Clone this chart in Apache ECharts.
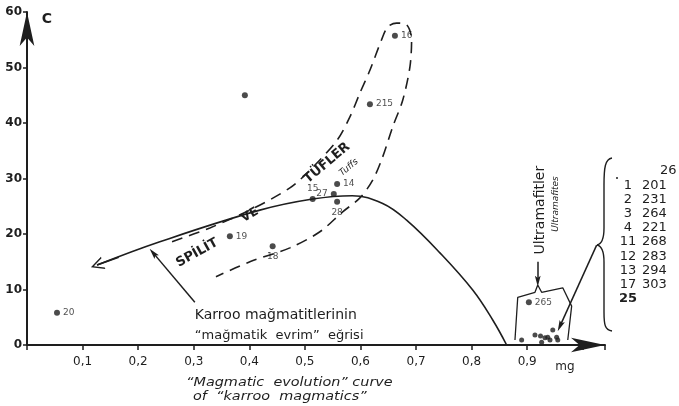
<!DOCTYPE html>
<html><head><meta charset="utf-8">
<script src="https://cdn.jsdelivr.net/npm/echarts@6/dist/echarts.min.js"></script>
<style>html,body{margin:0;padding:0;background:#fff}#c{width:679px;height:406px}</style>
</head><body><div id="c"></div>
<script>
// Analysed samples: mg (x) against C (y)
const labelledNames = ['20', '16', '215', '14', '15', '27', '28', '19', '18', '265'];
const labelledMg = [0.054, 0.662, 0.617, 0.558, 0.514, 0.552, 0.558, 0.365, 0.442, 0.903];
const labelledC = [5.8, 55.7, 43.4, 29.0, 26.3, 27.2, 25.8, 19.6, 17.8, 7.7];
const labelPlace = ['right', 'right', 'right', 'right', 'top', 'left', 'bottom', 'right', 'bottom', 'right'];
const unlabelledMg = [0.392];
const unlabelledC = [45.0];

// Ultramafite samples lying on the mg axis
const clusterMg = [0.890, 0.914, 0.924, 0.926, 0.932, 0.937, 0.941, 0.946, 0.953, 0.955];
const clusterC = [0.9, 1.8, 1.6, 0.5, 1.3, 1.4, 0.9, 2.7, 1.4, 0.9];

// "Magmatic evolution" curve of the Karroo magmatics
const curveMg = [0.126, 0.239, 0.419, 0.514, 0.585, 0.640, 0.683, 0.743, 0.802, 0.838, 0.863];
const curveC = [14.4, 18.6, 24.3, 26.3, 26.9, 25.5, 22.5, 16.6, 9.9, 4.5, 0];

// Outline of the spilite & tuff field
const fieldMg = [0.261, 0.329, 0.401, 0.473, 0.509, 0.558, 0.581, 0.599, 0.617, 0.638, 0.649, 0.665, 0.683, 0.692,
  0.689, 0.676, 0.658, 0.640, 0.622, 0.599, 0.568, 0.527, 0.473, 0.401, 0.340];
const fieldC = [18.6, 21.1, 24.3, 28.3, 31.5, 36.9, 41.1, 45.4, 49.5, 55.0, 57.3, 58.0, 57.7, 55.0,
  50.1, 44.1, 39.3, 33.9, 29.7, 26.5, 24.0, 20.4, 17.5, 15.0, 12.3];

// Bracket around the ultramafites
const ultraMg = [0.878, 0.883, 0.914, 0.919, 0.926, 0.964, 0.980, 0.973];
const ultraC = [0.9, 8.6, 9.5, 10.8, 9.5, 10.3, 7.0, 0.9];

// Pointer arrows: [tail mg, tail C, head mg, head C]
const pointerKarroo = [0.302, 7.7, 0.227, 16.6];
const pointerUltra = [0.919, 15.0, 0.919, 11.5];
const pointerCluster = [1.025, 18.0, 0.959, 3.4];
const curveHead = [0.165, 15.8, 0.126, 14.4];

// Sample list grouped by the brace
const listLeft = ['', '1', '2', '3', '4', '11', '12', '13', '17', '25'];
const listRight = ['26', '201', '231', '264', '221', '268', '283', '294', '303', ''];

const ink = '#1e1e1e';
const zip = (a, b) => a.map((v, i) => [v, b[i]]);
const chevron = 'path://M0,0 M10,10 M5,0 L10,10 L8.8,10 L5,2.4 L1.2,10 L0,10 Z';
const dart = 'path://M0,0 M10,10 M5,0 L7.6,10 L5,8 L2.4,10 Z';

const chart = echarts.init(document.getElementById('c'), null, { renderer: 'canvas' });

const arrowSeg = (p) => ({ coords: [[p[0], p[1]], [p[2], p[3]]] });

const option = {
  animation: false,
  backgroundColor: '#fff',
  grid: { left: 27, right: 74, top: 12, bottom: 61, containLabel: false },
  xAxis: {
    type: 'value', min: 0, max: 1.04, interval: 0.1,
    axisLine: { lineStyle: { color: ink, width: 2 }, symbol: ['none', 'arrow'], symbolSize: [11, 34] },
    axisTick: { show: true, length: 5, lineStyle: { color: ink, width: 1.5 } },
    axisLabel: {
      color: ink, fontFamily: 'DejaVu Sans', fontSize: 12, margin: 11,
      formatter: v => (v > 0.05 && v < 0.95) ? v.toFixed(1).replace('.', ',') : ''
    },
    splitLine: { show: false }
  },
  yAxis: {
    type: 'value', min: 0, max: 60, interval: 10,
    axisLine: { lineStyle: { color: ink, width: 2 }, symbol: ['none', 'arrow'], symbolSize: [11, 34] },
    axisTick: { show: true, length: 4, lineStyle: { color: ink, width: 1.5 } },
    axisLabel: { color: ink, fontFamily: 'DejaVu Sans', fontSize: 12, fontWeight: 'bold', margin: 5, showMaxLabel: true },
    splitLine: { show: false }
  },
  series: [
    {
      name: 'Magmatic evolution curve', type: 'line', smooth: 0.4, symbol: 'none',
      lineStyle: { color: ink, width: 1.6 }, data: zip(curveMg, curveC), z: 2
    },
    {
      name: 'Spilite and tuff field', type: 'line', smooth: 0.3, symbol: 'none',
      lineStyle: { color: ink, width: 1.6, type: [11, 7] }, data: zip(fieldMg, fieldC), z: 2
    },
    {
      name: 'Ultramafite bracket', type: 'line', symbol: 'none',
      lineStyle: { color: ink, width: 1.3 }, data: zip(ultraMg, ultraC), z: 2
    },
    {
      name: 'Pointers', type: 'lines', coordinateSystem: 'cartesian2d',
      symbol: ['none', dart], symbolSize: [0, 11],
      lineStyle: { color: ink, width: 1.5, opacity: 1 },
      data: [arrowSeg(pointerKarroo), arrowSeg(pointerUltra), arrowSeg(pointerCluster)], z: 3
    },
    {
      name: 'Curve head', type: 'lines', coordinateSystem: 'cartesian2d',
      symbol: ['none', chevron], symbolSize: [0, 13],
      lineStyle: { color: ink, width: 1.6, opacity: 1 },
      data: [arrowSeg(curveHead)], z: 3
    },
    {
      name: 'Samples', type: 'scatter', symbolSize: 6, itemStyle: { color: ink },
      data: labelledMg.map((m, i) => ({
        value: [m, labelledC[i]], name: labelledNames[i],
        label: { position: labelPlace[i] }
      })),
      label: { show: true, formatter: '{b}', color: ink, fontFamily: 'DejaVu Sans', fontSize: 9, distance: 3 },
      z: 4
    },
    {
      name: 'Unlabelled sample', type: 'scatter', symbolSize: 6, itemStyle: { color: ink },
      data: zip(unlabelledMg, unlabelledC), z: 4
    },
    {
      name: 'Ultramafites', type: 'scatter', symbolSize: 5, itemStyle: { color: ink },
      data: zip(clusterMg, clusterC), z: 4
    }
  ]
};
chart.setOption(option);

// Annotations anchored to the plot's own scales
const px = (m, c) => chart.convertToPixel({ gridIndex: 0 }, [m, c]);
const deg = d => d * Math.PI / 180;
const txt = (text, p, o) => Object.assign({
  type: 'text', x: p[0], y: p[1],
  style: Object.assign({ text, fill: ink, font: '13px "DejaVu Sans"', align: 'center', verticalAlign: 'middle' }, o && o.style || {})
}, o && o.el || {});

const g = [];
g.push(txt('C', px(0.036, 58.6), { style: { font: 'bold 14px "DejaVu Sans"' } }));
g.push(txt('TÜFLER', px(0.540, 32.8), { style: { font: 'bold 13px "DejaVu Sans"' }, el: { rotation: deg(40) } }));
g.push(txt('Tuffs', px(0.579, 32.0), { style: { font: 'italic 9px "DejaVu Sans"' }, el: { rotation: deg(40) } }));
g.push(txt('VE', px(0.401, 23.4), { style: { font: 'bold 12px "DejaVu Sans"' }, el: { rotation: deg(30) } }));
g.push(txt('SPİLİT', px(0.306, 16.6), { style: { font: 'bold 13px "DejaVu Sans"' }, el: { rotation: deg(29) } }));
g.push(txt('Karroo mağmatitlerinin', px(0.302, 5.4), { style: { font: '14px "DejaVu Sans"', align: 'left' } }));
g.push(txt('“mağmatik  evrim”  eğrisi', px(0.302, 1.7), { style: { font: '13px "DejaVu Sans"', align: 'left' } }));
g.push(txt('Ultramafitler', px(0.924, 24.3), { style: { font: '14px "DejaVu Sans"' }, el: { rotation: deg(90) } }));
g.push(txt('Ultramafites', px(0.952, 25.4), { style: { font: 'italic 9px "DejaVu Sans"' }, el: { rotation: deg(90) } }));
g.push(txt('mg', px(0.968, -3.9), { style: { font: '12px "DejaVu Sans"' } }));
g.push(txt('“Magmatic  evolution” curve', [186, 383], { style: { font: 'italic 12px "DejaVu Sans"', align: 'left' }, el: { scaleX: 1.2, originX: 0 } }));
g.push(txt('of  “karroo  magmatics”', [193, 397], { style: { font: 'italic 12px "DejaVu Sans"', align: 'left' }, el: { scaleX: 1.2, originX: 0 } }));

// Brace grouping the ultramafite samples
const bz = (x1, y1, cpx1, cpy1, cpx2, cpy2, x2, y2) => ({
  type: 'bezierCurve', shape: { x1, y1, cpx1, cpy1, cpx2, cpy2, x2, y2 },
  style: { stroke: ink, lineWidth: 1.4, fill: null }
});
const ln = (x1, y1, x2, y2) => ({ type: 'line', shape: { x1, y1, x2, y2 }, style: { stroke: ink, lineWidth: 1.4 } });
g.push(bz(612, 158, 605, 159, 604, 168, 604, 185));
g.push(ln(604, 185, 604, 228));
g.push(bz(604, 228, 604, 239, 602, 244, 597, 245));
g.push(bz(597, 245, 602, 246, 604, 251, 604, 262));
g.push(ln(604, 262, 604, 312));
g.push(bz(604, 312, 604, 325, 605, 330, 612, 331));
g.push({ type: 'circle', shape: { cx: 617, cy: 178, r: 1 }, style: { fill: ink } });
listLeft.forEach((t, i) => {
  if (t) g.push(txt(t, [628, 171 + i * 14.2], { style: { font: (t === '25' ? 'bold ' : '') + '13px "DejaVu Sans"' } }));
});
listRight.forEach((t, i) => {
  if (t) g.push(txt(t, [i === 0 ? 660 : 642, 171 + i * 14.2], { style: { font: '13px "DejaVu Sans"', align: 'left' } }));
});

chart.setOption({ graphic: g });
</script>
</body></html>
